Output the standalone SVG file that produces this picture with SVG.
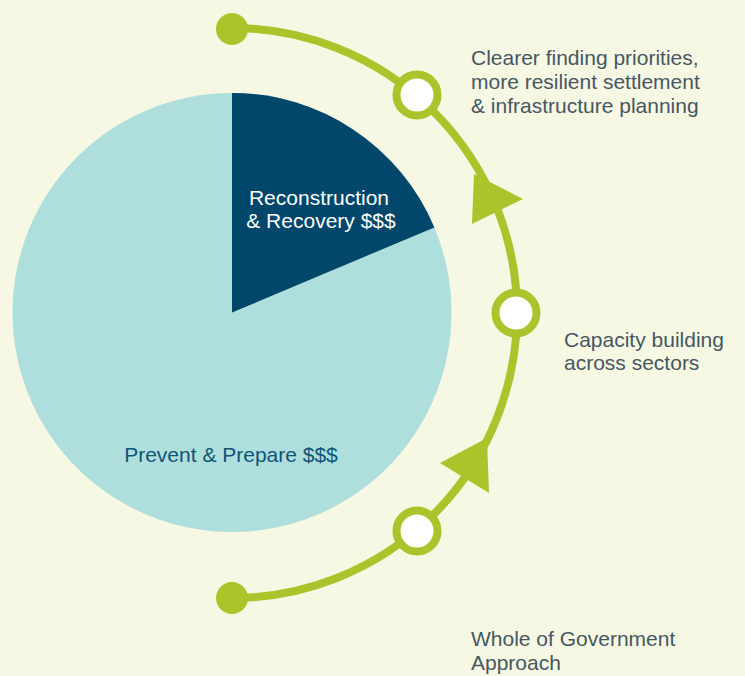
<svg xmlns="http://www.w3.org/2000/svg" width="745" height="676" viewBox="0 0 745 676">
  <style>
    .lbl { font-family: "Liberation Sans", Arial, sans-serif; font-size: 21px; fill: #475761; }
    .pie { font-family: "Liberation Sans", Arial, sans-serif; font-size: 21px; }
    .ring { fill: #ffffff; stroke: #abc42b; stroke-width: 8; }
    .dot { fill: #abc42b; }
    .arc { fill: none; stroke: #abc42b; stroke-width: 8; }
    .head { fill: #abc42b; }
  </style>
  <rect x="0" y="0" width="745" height="676" fill="#f6f8e3"/>

  <g id="pie-prevent">
    <circle cx="232" cy="312.5" r="219.5" fill="#aedfdc"/>
    <text class="pie" x="231" y="462" text-anchor="middle" fill="#0e5577">Prevent &amp; Prepare $$$</text>
  </g>
  <g id="pie-reconstruction">
    <path d="M232 312.5 L232 93 A219.5 219.5 0 0 1 434.3 227.4 Z" fill="#00476b"/>
    <text class="pie" x="319" y="205" text-anchor="middle" fill="#ffffff">Reconstruction</text>
    <text class="pie" x="321" y="228" text-anchor="middle" fill="#ffffff">&amp; Recovery $$$</text>
  </g>

  <g id="connectors">
    <path class="arc" d="M232 28 A285 285 0 0 1 232 598"/>
    <polygon class="head" points="474,174 523,199 472,224"/>
    <polygon class="head" points="487,438 489,493 440,463"/>
  </g>

  <g id="start-dot">
    <circle class="dot" cx="232" cy="29" r="16"/>
  </g>
  <g id="end-dot">
    <circle class="dot" cx="232" cy="598" r="16"/>
  </g>

  <g id="stage-clearer">
    <circle class="ring" cx="417" cy="95" r="20.5"/>
    <text class="lbl" x="471" y="65">Clearer finding priorities,</text>
    <text class="lbl" x="471" y="89">more resilient settlement</text>
    <text class="lbl" x="471" y="113">&amp; infrastructure planning</text>
  </g>
  <g id="stage-capacity">
    <circle class="ring" cx="516" cy="313" r="20.5"/>
    <text class="lbl" x="564" y="347">Capacity building</text>
    <text class="lbl" x="564" y="370">across sectors</text>
  </g>
  <g id="stage-whole">
    <circle class="ring" cx="417" cy="531" r="20.5"/>
    <text class="lbl" x="471" y="646">Whole of Government</text>
    <text class="lbl" x="471" y="670">Approach</text>
  </g>
</svg>
